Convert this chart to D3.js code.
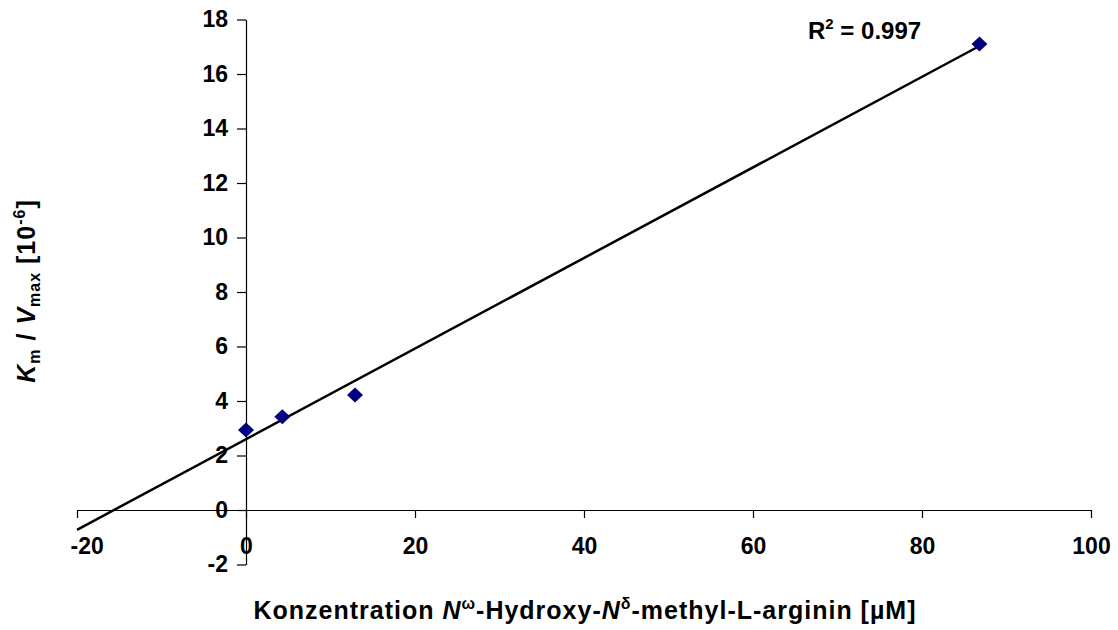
<!DOCTYPE html>
<html>
<head>
<meta charset="utf-8">
<script src="https://cdn.jsdelivr.net/npm/d3@7"></script>
<style>
  html, body { margin: 0; padding: 0; background: #fff; }
  svg { display: block; font-family: "Liberation Sans", Arial, sans-serif; font-weight: bold; }
</style>
</head>
<body>
<svg id="chart" width="1118" height="630"></svg>
<script>
// ---- data ----
const concentrations = [0, 4.3, 12.9, 86.8];        // µM
const kmVmax = [2.94, 3.42, 4.22, 17.1];            // Km/Vmax [1e-6]
const xTicks = [-20, 0, 20, 40, 60, 80, 100];
const yTicks = [-2, 0, 2, 4, 6, 8, 10, 12, 14, 16, 18];
const trendStart = -20;                              // backward forecast start
const r2Label = "0.997";

// ---- layout ----
const svg = d3.select("#chart");
const x = d3.scaleLinear().domain([-20, 100]).range([77, 1091]);
const y = d3.scaleLinear().domain([-2, 18]).range([564.5, 19.5]);
const fs = 23;
const tfs = 25;
const tls = 1.0;

// linear regression (Excel trendline)
const n = concentrations.length;
const mx = d3.mean(concentrations), my = d3.mean(kmVmax);
let sxy = 0, sxx = 0;
for (let i = 0; i < n; i++) { sxy += (concentrations[i]-mx)*(kmVmax[i]-my); sxx += (concentrations[i]-mx)**2; }
const slope = sxy / sxx, intercept = my - slope*mx;

// x axis at y=0
const xAxis = svg.append("g")
  .attr("transform", `translate(0,${y(0)})`)
  .call(d3.axisBottom(x).tickValues(xTicks).tickSize(8).tickSizeOuter(0).tickPadding(20).tickFormat(d3.format("d")));
// y axis at x=0
const yAxis = svg.append("g")
  .attr("transform", `translate(${x(0)},0)`)
  .call(d3.axisLeft(y).tickValues(yTicks).tickSize(9).tickSizeOuter(0).tickPadding(9).tickFormat(d3.format("d")));

[xAxis, yAxis].forEach(g => {
  g.selectAll("path.domain").attr("stroke", "#000").attr("stroke-width", 1.2);
  g.selectAll(".tick line").attr("stroke", "#000").attr("stroke-width", 1.2);
  g.selectAll(".tick text").attr("font-size", fs).attr("font-weight", "bold")
    .attr("font-family", "'Liberation Sans', Arial, sans-serif").attr("fill", "#000")
    .text(d => d < 0 ? "-" + Math.abs(d) : d);
});
// keep the leftmost x label inside the plot area
xAxis.selectAll(".tick text").each(function(d) {
  const w = this.getComputedTextLength();
  const cx = x(d);
  const minLeft = 70;
  if (cx - w/2 < minLeft) d3.select(this).attr("x", minLeft + w/2 - cx);
});

// trendline
const xEnd = d3.max(concentrations);
svg.append("line")
  .attr("x1", x(trendStart)).attr("y1", y(intercept + slope*trendStart))
  .attr("x2", x(xEnd)).attr("y2", y(intercept + slope*xEnd))
  .attr("stroke", "#000").attr("stroke-width", 2.5);

// markers
svg.append("g").selectAll("path")
  .data(d3.zip(concentrations, kmVmax))
  .join("path")
  .attr("transform", d => `translate(${x(d[0])},${y(d[1])})`)
  .attr("d", "M0,-7.5L8,0L0,7.5L-8,0Z")
  .attr("fill", "#000080");

// R² label
const r2 = svg.append("text").attr("x", 808).attr("y", 39).attr("font-size", 24).attr("fill", "#000");
r2.append("tspan").text("R");
r2.append("tspan").attr("font-size", 15).attr("dy", -10).text("2");
r2.append("tspan").attr("dy", 10).text(" = " + r2Label);

// x axis title
const xt = svg.append("text").attr("x", 585).attr("y", 619).attr("text-anchor", "middle")
  .attr("font-size", tfs).attr("letter-spacing", tls).attr("fill", "#000");
xt.append("tspan").text("Konzentration ");
xt.append("tspan").attr("font-style", "italic").text("N");
xt.append("tspan").attr("font-size", 16).attr("dy", -10).text("ω");
xt.append("tspan").attr("dy", 10).text("-Hydroxy-");
xt.append("tspan").attr("font-style", "italic").text("N");
xt.append("tspan").attr("font-size", 16).attr("dy", -10).text("δ");
xt.append("tspan").attr("dy", 10).text("-methyl-L-arginin [µM]");

// y axis title
const yt = svg.append("text").attr("transform", `translate(35,291) rotate(-90)`).attr("text-anchor", "middle")
  .attr("font-size", tfs).attr("letter-spacing", tls).attr("fill", "#000");
yt.append("tspan").attr("font-style", "italic").text("K");
yt.append("tspan").attr("font-size", 16).attr("dy", 5).text("m");
yt.append("tspan").attr("dy", -5).text(" / ");
yt.append("tspan").attr("font-style", "italic").text("V");
yt.append("tspan").attr("font-size", 16).attr("dy", 5).text("max");
yt.append("tspan").attr("dy", -5).text(" [10");
yt.append("tspan").attr("font-size", 16).attr("dy", -10).text("-6");
yt.append("tspan").attr("dy", 10).text("]");
</script>
</body>
</html>
